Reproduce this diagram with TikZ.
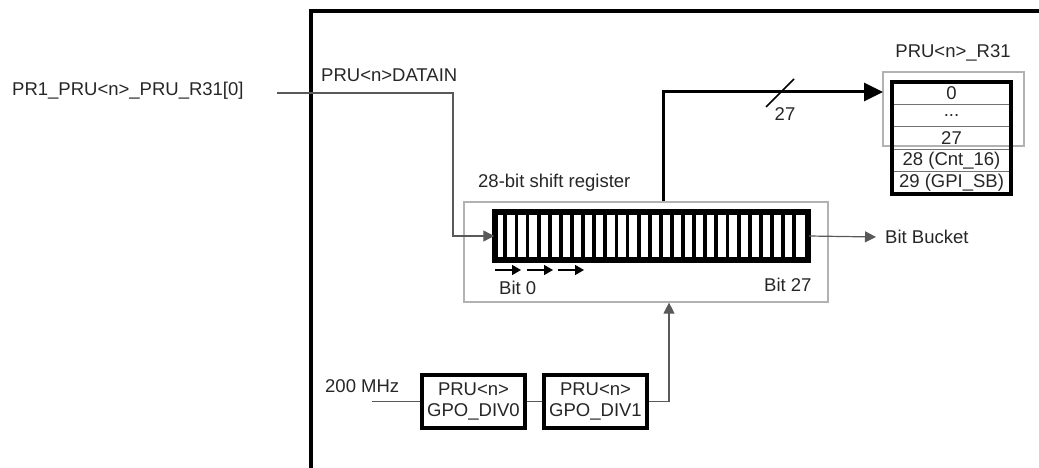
\documentclass[tikz,border=0pt]{standalone}
\usepackage{fontspec}
\setmainfont{Liberation Sans}
\usetikzlibrary{arrows.meta,calc}
\begin{document}
\begin{tikzpicture}[x=1pt,y=-1pt,
  every node/.style={font=\fontsize{18.5}{21}\selectfont, text=black!85, inner sep=0pt},
  conn/.style={draw=black!65, line width=1.2pt},
  tip/.style={-{Triangle[length=11pt,width=11pt]}},
  bigtip/.style={-{Triangle[length=19pt,width=18pt]}},
  smalltip/.style={-{Triangle[length=9pt,width=10pt]}},
  thickbox/.style={draw=black, line width=3.5pt, fill=white},
  graybox/.style={draw=black!30, line width=1.2pt},
  rowbox/.style={draw=black!55, line width=0.8pt, minimum width=119pt, minimum height=22.4pt},
  divbox/.style={thickbox, minimum width=103pt, minimum height=53pt, align=center}
]
\useasboundingbox (0,0) rectangle (1039,468);
\begin{scope}
  \clip (0,0) rectangle (1039,468);
  \draw[line width=4pt] (1060,11) -- (311,11) -- (311,490);
\end{scope}

% input
\node[anchor=west] (inlbl) at (12,91) {PR1\_PRU<n>\_PRU\_R31[0]};
\coordinate (inL) at (277,93);
\node[anchor=west] (datain) at (321,75) {PRU<n>DATAIN};

% shift register
\node[graybox, minimum width=364pt, minimum height=100pt] (sr) at (646,252) {};
\node[anchor=west] (srlbl) at (478,183) {28-bit shift register};
\node[thickbox, minimum width=311pt, minimum height=46pt] (reg) at (651.5,236) {};
\foreach \k in {1,...,27}
  \draw[line width=3.8pt] ($(reg.south west)+(\k*11.107,0)$) -- ($(reg.north west)+(\k*11.107,0)$);
\draw[line width=3.8pt] (reg.south west) rectangle (reg.north east);
\draw[line width=1.5pt, smalltip] (495,270) -- (521,270);
\draw[line width=1.5pt, smalltip] (527,270) -- (553,270);
\draw[line width=1.5pt, smalltip] (558,270) -- (584,270);
\node[anchor=west] (bit0) at (499,288) {Bit 0};
\node[anchor=west] (bit27) at (764,285) {Bit 27};

\draw[conn, tip] (inL) -- (453,93) |- (reg.west);

% R31 register
\node[graybox, minimum width=141pt, minimum height=74pt] (r31g) at (953.5,109) {};
\node (r31lbl) at (953,52.5) {PRU<n>\_R31};
\node[rowbox] (r0) at (951.5,93.2) {0};
\node[rowbox] (r1) at (951.5,115.6) {...};
\node[rowbox] (r2) at (951.5,138) {27};
\node[rowbox] (r3) at (951.5,160.4) {28 (Cnt\_16)};
\node[rowbox] (r4) at (951.5,182.8) {29 (GPI\_SB)};
\draw[line width=4pt] (r0.north west) rectangle (r4.south east);

% output bus
\coordinate (outS) at ($(sr.north)+(17,0)$);
\coordinate (r31in) at (883,92);
\draw[line width=3pt, bigtip] (outS) |- (r31in);
\draw[line width=1.5pt] (766,107) -- (794,79);
\node (bus27) at (785,114.5) {27};

% bit bucket
\coordinate (bbend) at (876,237);
\draw[conn, tip] (reg.east) -- (bbend);
\node[anchor=west] (bb) at (885,237) {Bit Bucket};

% clock
\node[anchor=west] (mhz) at (325,386.5) {200 MHz};
\coordinate (clkin) at (372,401.5);
\node[divbox] (div0) at (473.5,401.5) {PRU<n>\\GPO\_DIV0};
\node[divbox] (div1) at (595.5,401.5) {PRU<n>\\GPO\_DIV1};
\draw[conn] (clkin) -- (div0.west);
\draw[conn] (div0.east) -- (div1.west);
\draw[conn, tip] (div1.east) -| ($(sr.south)+(23,0)$);
\end{tikzpicture}
\end{document}
